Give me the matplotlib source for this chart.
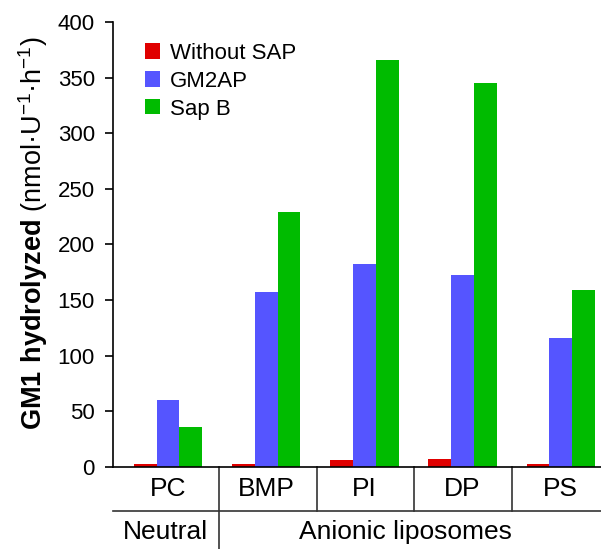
import numpy as np
import matplotlib
matplotlib.use("Agg")
import matplotlib.pyplot as plt

plt.rcParams['font.family'] = ['Liberation Sans', 'DejaVu Sans']
plt.rcParams['mathtext.fontset'] = 'custom'
plt.rcParams['mathtext.rm'] = 'Liberation Sans'
plt.rcParams['mathtext.bf'] = 'Liberation Sans:bold'

# data
lipids = ['PC', 'BMP', 'PI', 'DP', 'PS']
without_sap = [3, 3, 6, 7, 3]
gm2ap = [60, 157, 182, 173, 116]
sap_b = [36, 229, 366, 345, 159]
series_names = ['Without SAP', 'GM2AP', 'Sap B']
series_colors = ['#e00000', '#5555ff', '#00bb00']

fig = plt.figure(figsize=(6.01, 5.49), dpi=100)
ax = fig.add_axes([0.188, 0.1494, 0.812, 0.8106])

x = np.arange(len(lipids))
w = 0.232
for k, (vals, name, col) in enumerate(zip([without_sap, gm2ap, sap_b], series_names, series_colors)):
    ax.bar(x + (k - 1) * w, vals, width=w, color=col, label=name, linewidth=0)

ax.set_xlim(-0.56, 4.41)
ax.set_ylim(0, 400)
ax.set_yticks(range(0, 401, 50))
ax.tick_params(axis='y', labelsize=16, length=6, width=1.2, pad=7)
ax.set_xticks([])
for s in ['top', 'right']:
    ax.spines[s].set_visible(False)
ax.spines['left'].set_linewidth(1.2)
ax.spines['bottom'].set_linewidth(1.2)

# category table below the axis
trans = ax.get_xaxis_transform()
kw = dict(color='#333333', lw=1.2, clip_on=False, transform=trans)
ax.plot([-0.56, 4.41], [-0.098, -0.098], **kw)
for d in [0.52, 1.52, 2.51, 3.5]:
    bottom = -0.2 if d == 0.52 else -0.098
    ax.plot([d, d], [0, bottom], **kw)
for xi, name in zip(x, lipids):
    ax.text(xi, -0.05, name, ha='center', va='center', fontsize=19, transform=trans)
ax.text(-0.03, -0.146, 'Neutral', ha='center', va='center', fontsize=19, transform=trans)
ax.text(2.42, -0.146, 'Anionic liposomes', ha='center', va='center', fontsize=19, transform=trans)

fig.text(0.055, 0.576, r'$\mathbf{GM1\ hydrolyzed}$ (nmol·U$^{-1}$·h$^{-1}$)',
         rotation=90, ha='center', va='center', fontsize=19.5)

ax.legend(loc='upper left', bbox_to_anchor=(0.241, 0.922), bbox_transform=fig.transFigure,
          frameon=False, fontsize=16, handlelength=0.68, handleheight=0.68,
          handletextpad=0.45, labelspacing=0.31, borderpad=0, borderaxespad=0)

fig.savefig('out.png', dpi=100)
